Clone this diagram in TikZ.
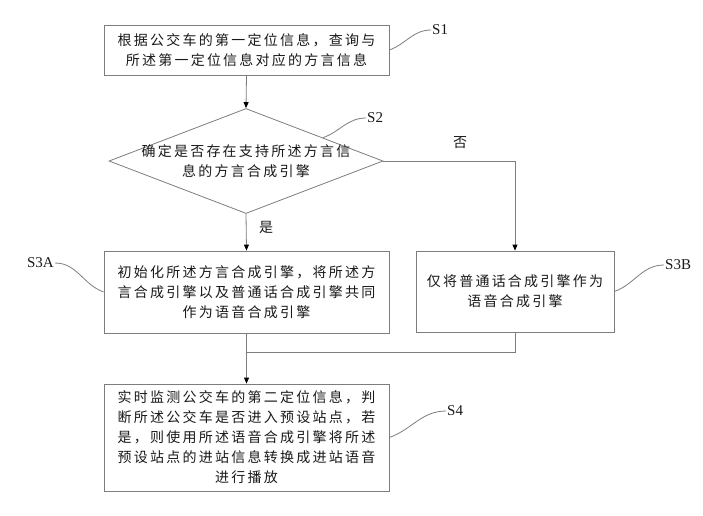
\documentclass[tikz,border=0pt]{standalone}
\usepackage{fontspec}
\setmainfont{Liberation Serif}
\newfontfamily\cjk{Noto Sans CJK SC}[LetterSpace=16]
\usetikzlibrary{shapes.geometric,arrows.meta,calc}

\definecolor{lc}{RGB}{125,125,125}
\definecolor{tc}{RGB}{25,25,25}

\begin{document}
\begin{tikzpicture}[x=1pt, y=-1pt,
  box/.style={draw=lc, line width=0.8pt, inner sep=0pt, align=center, text=tc,
    font={\fontsize{14}{20}\selectfont\cjk}},
  txt/.style={inner sep=0pt, align=center, text=tc, font={\fontsize{14}{20}\selectfont\cjk}},
  lab/.style={inner sep=1pt, text=tc, font={\fontsize{15}{17}\selectfont}},
  line/.style={draw=lc, line width=0.8pt},
  arr/.style={line, -{Triangle[length=6pt, width=5pt, color=black]}}]
  \useasboundingbox (0,0) rectangle (703,515);

  % Steps
  \node[box, minimum width=285pt, minimum height=50pt] (s1) at (246.5,50)
    {根据公交车的第一定位信息，查询与\\所述第一定位信息对应的方言信息};
  \node[line, diamond, inner sep=0pt, minimum width=274pt, minimum height=105pt] (s2) at (246,161) {};
  \node[txt] (s2t) at (s2.center) {确定是否存在支持所述方言信\\息的方言合成引擎};
  \node[box, minimum width=285pt, minimum height=82pt] (s3a) at (246.5,292)
    {初始化所述方言合成引擎，将所述方\\言合成引擎以及普通话合成引擎共同\\作为语音合成引擎};
  \node[box, minimum width=198pt, minimum height=81pt] (s3b) at (515,291.5)
    {仅将普通话合成引擎作为\\语音合成引擎};
  \node[box, minimum width=285pt, minimum height=107pt] (s4) at (246.5,437.5)
    {实时监测公交车的第二定位信息，判\\断所述公交车是否进入预设站点，若\\是，则使用所述语音合成引擎将所述\\预设站点的进站信息转换成进站语音\\进行播放};

  % Step labels
  \node[lab, anchor=west] (l1) at (431,30) {S1};
  \node[lab, anchor=west] (l2) at (366,118) {S2};
  \node[lab, anchor=east] (l3a) at (55,263) {S3A};
  \node[lab, anchor=west] (l3b) at (664,265) {S3B};
  \node[lab, anchor=west] (l4) at (446,411) {S4};

  \draw[line] (s1.east) to[out=20, in=180] (l1.west);
  \draw[line] ($(s2.north)!0.56!(s2.east)$) to[out=20, in=180] (l2.west);
  \draw[line] (l3a.east) to[out=0, in=160] (s3a.west);
  \draw[line] (s3b.east) to[out=20, in=180] (l3b.west);
  \draw[line] (s4.east) to[out=20, in=180] (l4.west);

  % Branch labels
  \node[txt] (no) at (460,143) {否};
  \node[txt] (yes) at (266,227) {是};

  % Flow
  \coordinate (mrg) at (246.5,352);
  \draw[arr] (s1.south) -- (s2.north);
  \draw[arr] (s2.south) -- (s3a.north);
  \draw[arr] (s2.east) -| (s3b.north);
  \draw[line] (s3b.south) |- (mrg);
  \draw[arr] (s3a.south) -- (s4.north);

\end{tikzpicture}
\end{document}
